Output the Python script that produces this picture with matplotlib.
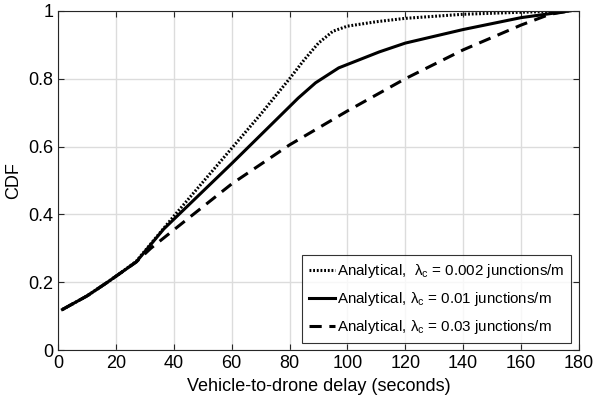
import matplotlib
matplotlib.use('Agg')
import matplotlib.pyplot as plt

plt.rcParams['font.family'] = ['Liberation Sans', 'DejaVu Sans']
plt.rcParams['mathtext.fontset'] = 'custom'
plt.rcParams['mathtext.rm'] = 'Liberation Sans'
plt.rcParams['mathtext.it'] = 'Liberation Sans'

# delay (seconds) vs CDF
x_002 = [1.5, 10, 17, 22, 27, 40, 50, 60, 70, 80, 85, 90, 95, 100, 110, 120, 140, 160, 177]
y_002 = [0.12, 0.16, 0.2, 0.23, 0.262, 0.395, 0.495, 0.595, 0.695, 0.80, 0.855, 0.905, 0.94, 0.955, 0.968, 0.978, 0.99, 0.996, 1.0]

x_01 = [1.5, 10, 17, 22, 27, 36.5, 60, 83, 89, 97, 111, 120, 140, 160, 177]
y_01 = [0.12, 0.16, 0.2, 0.23, 0.26, 0.357, 0.55, 0.743, 0.788, 0.832, 0.879, 0.905, 0.945, 0.98, 1.0]

x_03 = [1.5, 10, 17, 22, 27, 32, 43, 60, 80, 100, 120, 140, 160, 170, 177]
y_03 = [0.12, 0.16, 0.2, 0.23, 0.26, 0.30, 0.375, 0.49, 0.605, 0.705, 0.80, 0.885, 0.958, 0.99, 1.0]

labels = [r'Analytical,  $\lambda_c$ = 0.002 junctions/m',
          r'Analytical, $\lambda_c$ = 0.01 junctions/m',
          r'Analytical, $\lambda_c$ = 0.03 junctions/m']

fig = plt.figure(figsize=(5.93, 4.03), dpi=100)
ax = fig.add_axes([0.098, 0.131, 0.878, 0.842])

ax.plot(x_002, y_002, color='k', lw=2.2, linestyle=(0, (0.6, 0.6)), label=labels[0])
ax.plot(x_01, y_01, color='k', lw=2.2, linestyle='-', label=labels[1])
ax.plot(x_03, y_03, color='k', lw=2.2, linestyle=(0, (4, 2.5)), label=labels[2])

ax.set_xlim(0, 180)
ax.set_ylim(0, 1)
ax.set_xticks(range(0, 181, 20))
ax.set_yticks([0, 0.2, 0.4, 0.6, 0.8, 1])
ax.set_yticklabels(['0', '0.2', '0.4', '0.6', '0.8', '1'])
ax.grid(True, color='#dcdcdc', lw=1.0)
ax.set_axisbelow(True)
ax.tick_params(direction='in', top=True, right=True, labelsize=13, length=4, color='#262626')
for s in ax.spines.values():
    s.set_color('#262626')
    s.set_linewidth(0.8)

ax.set_xlabel('Vehicle-to-drone delay (seconds)', fontsize=13)
ax.set_ylabel('CDF', fontsize=13)

leg = ax.legend(loc='lower right', fontsize=10.9, frameon=True, fancybox=False,
                edgecolor='k', handlelength=1.7, handletextpad=0.15, borderaxespad=0.5,
                labelspacing=0.65, borderpad=0.45)
leg.get_frame().set_linewidth(0.8)

fig.savefig('out.png', dpi=100)
